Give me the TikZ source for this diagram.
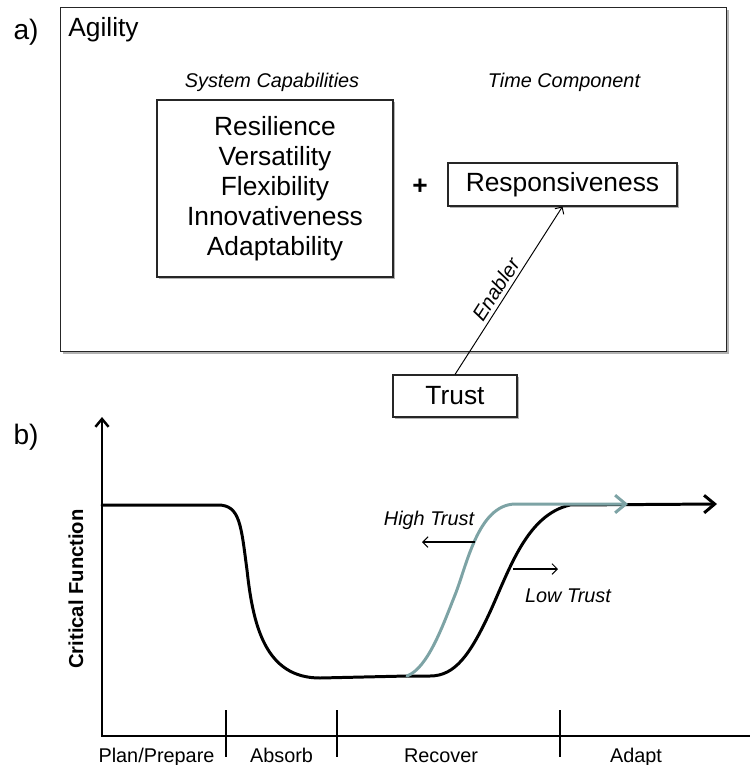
\documentclass[tikz,border=0pt]{standalone}
\usepackage{fontspec}
\setmainfont{Liberation Sans}
\usetikzlibrary{arrows.meta,shadows,calc}

\newcommand{\pxl}{0.02cm}
\newcommand{\fsz}[2]{\fontsize{#1pt}{#2pt}\selectfont}
\definecolor{trustgray}{RGB}{125,163,165}

\begin{document}
\begin{tikzpicture}[x=0.02cm, y=-0.02cm,
  panel/.style={draw=black!85, line width=0.6pt, fill=white, inner sep=0pt,
    drop shadow={shadow xshift=1.3pt, shadow yshift=-1.3pt, fill=black!55, opacity=0.55}},
  txt/.style={inner sep=0pt},
  bigtxt/.style={txt, font=\fsz{15}{17}},
  smalltxt/.style={txt, font=\fsz{11.3}{13}},
  italtxt/.style={txt, font=\fsz{11.3}{13}\itshape},
  enabler/.style={-{Straight Barb[length=3pt,width=6pt]}, line width=0.55pt},
  axis/.style={line width=1.4pt, line join=miter},
  tickline/.style={line width=1.3pt},
  curve/.style={line width=1.7pt, line cap=round, line join=round},
  bigtip/.style={-{Straight Barb[length=6pt,width=10pt]}},
  smalltip/.style={-{Straight Barb[length=3pt,width=6pt]}, line width=0.6pt}]

\useasboundingbox (0,0) rectangle (750,765);

% ---------- a) ----------
\node[txt, font=\fsz{16}{18}] (lbla) at (26,32) {a)};

\node[panel, anchor=north west, minimum width=666*\pxl, minimum height=344*\pxl] (agility) at (60,7) {};
\node[bigtxt, anchor=base west] (agilitylbl) at (68,36) {Agility};

\node[italtxt, anchor=base] (capslbl) at (272,87) {System Capabilities};
\node[italtxt, anchor=base] (timelbl) at (564,87) {Time Component};

\node[panel, minimum width=236*\pxl, minimum height=177*\pxl, align=center, font=\fsz{15}{17}]
  (caps) at (275,188.5) {Resilience\\Versatility\\Flexibility\\Innovativeness\\Adaptability};

\node[txt, font=\fsz{15}{17}\bfseries] (plus) at (420,187) {+};

\node[panel, minimum width=229*\pxl, minimum height=43*\pxl, font=\fsz{15}{17}]
  (resp) at (562.5,184.5) {Responsiveness};

\node[panel, minimum width=124*\pxl, minimum height=42*\pxl, font=\fsz{15}{17}]
  (trust) at (455,396) {Trust};

\draw[enabler] (trust.north) -- node[sloped, above, pos=0.47, font=\fsz{11.5}{13}\itshape, inner sep=2pt] {Enabler} (resp.south);

% ---------- b) ----------
\node[txt, font=\fsz{16}{18}] (lblb) at (26,437) {b)};

\coordinate (origin) at (102,736);
\coordinate (ytop) at (102,417);
\coordinate (xend) at (750,736);
\draw[axis, {Straight Barb[length=4.5pt,width=7.5pt]}-] (ytop) -- (origin) -- (xend);

\foreach \name/\xx in {t1/226, t2/337, t3/560}{
  \coordinate (\name a) at (\xx,710);
  \coordinate (\name b) at (\xx,757);
  \draw[tickline] (\name a) -- (\name b);
}

\node[smalltxt, anchor=base] (plan) at (156.5,762) {Plan/Prepare};
\node[smalltxt, anchor=base] (absorb) at (281.5,762) {Absorb};
\node[smalltxt, anchor=base] (recover) at (441,762) {Recover};
\node[smalltxt, anchor=base] (adapt) at (636,762) {Adapt};

\node[txt, font=\fsz{11.5}{13}\bfseries, rotate=90] (cf) at (76,589) {Critical Function};

% critical function, low trust
\draw[curve, bigtip] (102,505) -- (218,505)
  .. controls (240,505) and (241,525) .. (247,570)
  .. controls (253,625) and (265,678) .. (320,678)
  -- (407,676) -- (430,676)
  .. controls (455,676) and (470,655) .. (490,612)
  .. controls (510,568) and (527,515) .. (570,505)
  -- (717,504);

% critical function, high trust
\draw[curve, trustgray, bigtip] (407,676)
  .. controls (428,668) and (443,625) .. (455,595)
  .. controls (467,565) and (478,505) .. (515,504)
  -- (628,504);

\coordinate (ht1) at (475,542);
\coordinate (ht2) at (422,542);
\coordinate (lt1) at (513,569);
\coordinate (lt2) at (558,569);
\draw[smalltip] (ht1) -- (ht2);
\draw[smalltip] (lt1) -- (lt2);

\node[italtxt, anchor=base] (hightrust) at (429,525) {High Trust};
\node[italtxt, anchor=base] (lowtrust) at (568,602) {Low Trust};

\end{tikzpicture}
\end{document}
